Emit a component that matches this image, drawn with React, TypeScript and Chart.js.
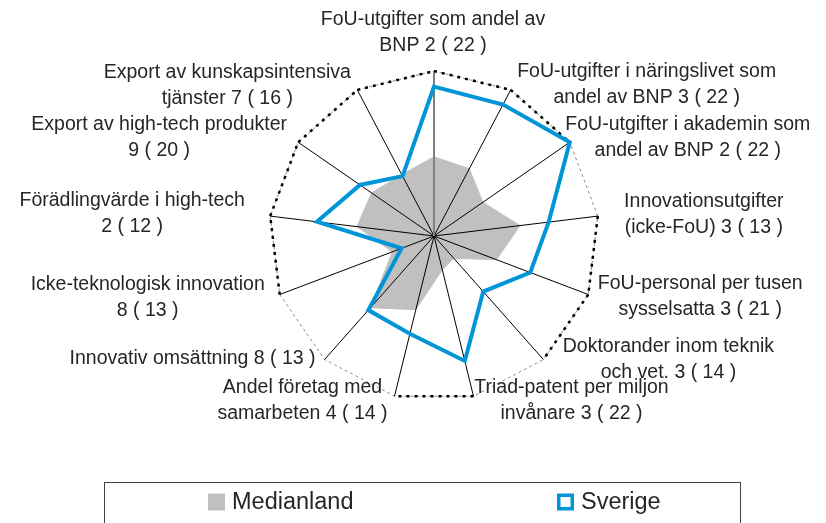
import React, { useEffect, useRef } from 'react';
import { Chart, registerables } from 'chart.js';

Chart.register(...registerables);

// ---- data ----
const categories: string[][] = [
  ['FoU-utgifter som andel av', 'BNP 2 ( 22 )'],
  ['FoU-utgifter i näringslivet som', 'andel av BNP 3 ( 22 )'],
  ['FoU-utgifter i akademin som', 'andel av BNP 2 ( 22 )'],
  ['Innovationsutgifter', '(icke-FoU) 3 ( 13 )'],
  ['FoU-personal per tusen', 'sysselsatta 3 ( 21 )'],
  ['Doktorander inom teknik', 'och vet. 3 ( 14 )'],
  ['Triad-patent per miljon', 'invånare 3 ( 22 )'],
  ['Andel företag med', 'samarbeten 4 ( 14 )'],
  ['Innovativ omsättning 8 ( 13 )'],
  ['Icke-teknologisk innovation', '8 ( 13 )'],
  ['Förädlingvärde i high-tech', '2 ( 12 )'],
  ['Export av high-tech produkter', '9 ( 20 )'],
  ['Export av kunskapsintensiva', 'tjänster 7 ( 16 )'],
];

const medianland = [0.48, 0.46, 0.36, 0.525, 0.405, 0.18, 0.21, 0.46, 0.58, 0.27, 0.47, 0.46, 0.42];
const sverige = [0.905, 0.9, 1.0, 0.7, 0.624, 0.45, 0.78, 0.61, 0.6, 0.21, 0.715, 0.545, 0.41];
const outerRing = [1, 1, 1, 1, 1, 1, 1, 1, 1, 1, 1, 1, 1];
const seriesNames = ['Medianland', 'Sverige'];

// ---- style ----
const outerSegmentVisible = [true, true, false, true, true, false, true, false, false, true, true, true, true];
const labelOffsets: number[][] = [
  [-1, -38], [136, -5], [118, -5], [106, -1], [112, 2], [125, 0], [98, 4],
  [-92, 4], [-132, -1], [-132, 3], [-138, -2], [-139, -5], [-130, -4],
];
const GRAY = '#c0c0c0';
const BLUE = '#0095d6';
const TEXT = '#262626';
const FONT = '"Liberation Sans", Arial, sans-serif';

function drawSpokes(chart: any) {
  const s = chart.scales.r;
  const ctx = chart.ctx;
  ctx.save();
  for (let i = categories.length - 1; i >= 0; i--) {
    const p = s.getPointPosition(i, s.drawingArea);
    ctx.beginPath();
    ctx.moveTo(s.xCenter, s.yCenter);
    ctx.lineTo(p.x, p.y);
    ctx.strokeStyle = i === 0 ? '#808080' : '#000000';
    ctx.lineWidth = i === 0 ? 2 : 1;
    ctx.stroke();
  }
  ctx.restore();
}

function drawOuterRing(chart: any) {
  const meta = chart.getDatasetMeta(1);
  const pts = meta.data;
  const n = pts.length;
  const ctx = chart.ctx;
  ctx.save();
  ctx.strokeStyle = '#000000';
  ctx.lineWidth = 2.5;
  ctx.setLineDash([3, 5]);
  for (let i = 0; i < n; i++) {
    if (!outerSegmentVisible[i]) continue;
    const a = pts[i];
    const b = pts[(i + 1) % n];
    ctx.beginPath();
    ctx.moveTo(a.x, a.y);
    ctx.lineTo(b.x, b.y);
    ctx.stroke();
  }
  ctx.restore();
}

function drawLabels(chart: any) {
  const s = chart.scales.r;
  const ctx = chart.ctx;
  ctx.save();
  ctx.font = '19.5px ' + FONT;
  ctx.fillStyle = TEXT;
  ctx.textAlign = 'center';
  ctx.textBaseline = 'middle';
  const lh = 26;
  categories.forEach((lines, i) => {
    const p = s.getPointPosition(i, s.drawingArea);
    const cx = p.x + labelOffsets[i][0];
    const cy = p.y + labelOffsets[i][1];
    const y0 = cy - ((lines.length - 1) * lh) / 2;
    lines.forEach((ln, j) => ctx.fillText(ln, cx, y0 + j * lh));
  });
  ctx.restore();
}

function drawLegend(chart: any) {
  const ctx = chart.ctx;
  ctx.save();
  ctx.strokeStyle = '#404040';
  ctx.lineWidth = 1;
  ctx.strokeRect(104.5, 482.5, 636, 80);
  const cy = 502;
  const xs = [208, 557];
  ctx.font = '23.5px ' + FONT;
  ctx.textBaseline = 'middle';
  ctx.textAlign = 'left';
  seriesNames.forEach((name, i) => {
    const x = xs[i];
    if (i === 0) {
      ctx.fillStyle = GRAY;
      ctx.fillRect(x, cy - 8.5, 17, 17);
    } else {
      ctx.strokeStyle = BLUE;
      ctx.lineWidth = 3.5;
      ctx.strokeRect(x + 1.75, cy - 8.5 + 1.75, 13.5, 13.5);
    }
    ctx.fillStyle = TEXT;
    ctx.fillText(name, x + 24, cy + 1);
  });
  ctx.restore();
}

const overlayPlugin = {
  id: 'overlay',
  afterDatasetDraw(chart: any, args: any) {
    if (args.index === 0) drawSpokes(chart);
    if (args.index === 1) drawOuterRing(chart);
  },
  afterDraw(chart: any) {
    drawLabels(chart);
    drawLegend(chart);
  },
};

export default function App() {
  const ref = useRef<HTMLCanvasElement | null>(null);
  useEffect(() => {
    if (!ref.current) return;
    const chart = new Chart(ref.current, {
      type: 'radar',
      data: {
        labels: categories.map((c) => c.join(' ')),
        datasets: [
          {
            label: seriesNames[0],
            data: medianland,
            fill: 'origin',
            backgroundColor: GRAY,
            borderColor: GRAY,
            borderWidth: 1,
            pointRadius: 0,
            pointHoverRadius: 0,
            order: 3,
          },
          {
            label: 'outer',
            data: outerRing,
            fill: false,
            borderColor: 'rgba(0,0,0,0)',
            borderWidth: 0,
            pointRadius: 0,
            pointHoverRadius: 0,
            order: 2,
          },
          {
            label: seriesNames[1],
            data: sverige,
            fill: false,
            borderColor: BLUE,
            borderWidth: 4,
            borderJoinStyle: 'miter',
            pointRadius: 0,
            pointHoverRadius: 0,
            order: 1,
          },
        ],
      },
      options: {
        animation: false,
        responsive: false,
        maintainAspectRatio: false,
        devicePixelRatio: 1,
        events: [],
        layout: { padding: { left: 269, top: 71, right: 227, bottom: 122 } },
        elements: { line: { tension: 0 } },
        plugins: {
          legend: { display: false },
          title: { display: false },
          tooltip: { enabled: false },
        },
        scales: {
          r: {
            min: 0,
            max: 1,
            beginAtZero: true,
            ticks: { display: false, stepSize: 1 },
            grid: { color: '#8c8c8c', lineWidth: 1 },
            border: { dash: [3, 3] },
            angleLines: { display: false },
            pointLabels: { display: false },
          } as any,
        },
      },
      plugins: [overlayPlugin],
    });
    return () => chart.destroy();
  }, []);
  return (
    <div style={{ position: 'fixed', left: 0, top: 0, width: 826, height: 523, background: '#fff' }}>
      <canvas ref={ref} width={826} height={523} style={{ display: 'block' }} />
    </div>
  );
}
